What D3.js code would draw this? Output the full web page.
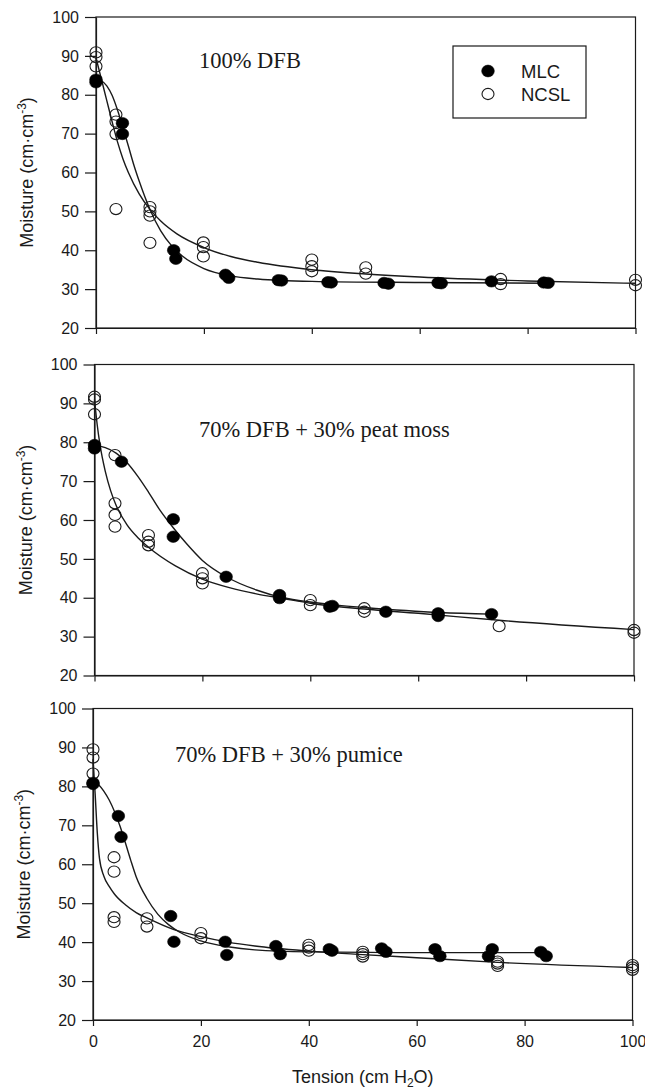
<!DOCTYPE html>
<html>
<head>
<meta charset="utf-8">
<script src="https://cdn.jsdelivr.net/npm/d3@7"></script>
<style>
  html, body { margin: 0; padding: 0; background: #fff; }
  svg { display: block; }
</style>
</head>
<body>
<div id="chart"></div>
<script>
const width = 645;
const height = 1089;

// Panel titles and axis ticks
const panelTitles = ["100% DFB", "70% DFB + 30% peat moss", "70% DFB + 30% pumice"];
const xTicks = [0, 20, 40, 60, 80, 100];
const yTicks = [20, 30, 40, 50, 60, 70, 80, 90, 100];
const seriesNames = ["MLC", "NCSL"];

// 100% DFB: measured points [tension, moisture]
const dfbMlc = [[0, 83.9], [0, 83.2], [4.9, 72.7], [4.9, 69.9], [14.4, 40], [14.8, 37.8],
  [24, 33.7], [24.6, 32.9], [33.8, 32.3], [34.4, 32.2], [43, 31.8], [43.6, 31.7],
  [53.4, 31.6], [54.2, 31.4], [63.4, 31.6], [64, 31.5], [73.3, 32], [83, 31.7], [83.8, 31.6]];
const dfbNcsl = [[0, 90.9], [0, 89.7], [0, 87.3], [3.7, 74.9], [3.7, 73.1], [3.7, 69.9], [3.7, 50.6],
  [10, 51.1], [10, 50], [10, 48.9], [10, 41.9], [19.9, 42], [19.9, 40.8], [19.9, 38.4],
  [40, 37.6], [40, 35.9], [40, 34.6], [50, 35.6], [50, 34], [75, 32.6], [75, 31.3], [100, 32.4], [100, 31]];
// fitted curves
const dfbMlcFit = [[0, 84], [1, 83.6], [2, 82.3], [3, 79.8], [4, 76], [5, 71.5], [6, 66.8], [7, 62],
  [8, 57.8], [10, 50.5], [12, 45], [14, 41.2], [16, 38.5], [20, 35.3], [25, 33.4], [30, 32.6],
  [40, 32], [60, 31.7], [84, 31.5]];
const dfbNcslFit = [[0, 89.5], [1, 84], [2, 78.5], [3, 73], [4, 67.8], [5, 63.5], [6, 60], [8, 54.5],
  [10, 50.5], [12, 47.5], [15, 44.2], [20, 40.7], [25, 38.4], [30, 36.9], [40, 35], [50, 33.9],
  [60, 33.1], [80, 32.1], [100, 31.5]];

// 70% DFB + 30% peat moss
const peatMlc = [[0, 79.3], [0, 78.4], [5, 75], [14.6, 60.2], [14.6, 55.7], [24.4, 45.4],
  [34.3, 40.7], [34.3, 39.9], [43.6, 37.7], [44.1, 37.9], [54, 36.4], [63.7, 36], [63.7, 35.3], [73.6, 35.8]];
const peatNcsl = [[0, 91.7], [0, 91], [0, 87.2], [3.8, 76.7], [3.8, 64.3], [3.8, 61.3], [3.8, 58.3],
  [10, 56.1], [10, 54.4], [10, 53.5], [20, 46.3], [20, 45], [20, 43.7], [40, 39.4], [40, 38.1],
  [50, 37.3], [50, 36.4], [75, 32.7], [100, 31.7], [100, 31]];
const peatMlcFit = [[0, 79.2], [2, 78.6], [4, 77.2], [6, 74.8], [8, 71.3], [10, 67.2], [12, 62.8],
  [14.6, 58], [17, 54], [20, 49.6], [24.4, 45.4], [30, 42], [35, 40], [40, 38.9], [45, 38.1],
  [50, 37.5], [64, 36.2], [73.6, 35.8]];
const peatNcslFit = [[0, 91], [0.5, 84.5], [1, 79.5], [2, 72.5], [3, 67.5], [4, 63.8], [6, 58.8],
  [8, 55.5], [10, 53], [15, 48.2], [20, 44.8], [25, 42.6], [30, 41], [35, 39.8], [40, 38.6],
  [50, 37.1], [60, 36], [75, 34.2], [100, 31.8]];

// 70% DFB + 30% pumice
const pumiceMlc = [[0, 80.9], [0, 80.6], [4.7, 72.4], [5.2, 67], [14.4, 46.7], [15, 40.1],
  [24.5, 40.1], [24.8, 36.7], [33.9, 39], [34.7, 36.9], [43.8, 38.2], [44.3, 37.8],
  [53.5, 38.4], [54.3, 37.5], [63.4, 38.2], [64.3, 36.4], [73.3, 36.4], [74, 38.2], [83, 37.5], [84, 36.4]];
const pumiceNcsl = [[0, 89.5], [0, 87.4], [0, 83.3], [3.9, 61.8], [3.9, 58.1], [3.9, 46.4], [3.9, 45.2],
  [10, 46.1], [10, 44], [20, 42.3], [20, 41], [40, 39.3], [40, 38.6], [40, 37.8],
  [50, 37.5], [50, 36.9], [50, 36.3], [75, 35], [75, 34.5], [75, 33.9], [100, 34.1], [100, 33.5], [100, 32.9]];
const pumiceMlcFit = [[0, 81.5], [1, 80.5], [2, 78.8], [3, 76.5], [4, 73.5], [5, 69.8], [6, 65.5],
  [7, 61], [8, 56.8], [10, 51.2], [12, 47.2], [14, 44.5], [16, 42.6], [20, 40.3], [25, 38.8],
  [30, 38], [40, 37.5], [60, 37.3], [84, 37.3]];
const pumiceNcslFit = [[0, 87], [0.4, 78], [0.8, 68], [1.2, 61.5], [2, 57], [3, 54.3], [4, 52.3],
  [6, 49.6], [8, 47.6], [10, 46.2], [15, 43.2], [20, 41.4], [25, 40], [30, 39], [40, 37.7],
  [50, 36.8], [60, 36], [75, 34.8], [100, 33.5]];

// Layout of the three stacked panels
const panels = [
  { title: panelTitles[0], mlc: dfbMlc, ncsl: dfbNcsl, mlcFit: dfbMlcFit, ncslFit: dfbNcslFit,
    left: 96, right: 635.5, top: 17, bottom: 328, titleX: 199, titleY: 68 },
  { title: panelTitles[1], mlc: peatMlc, ncsl: peatNcsl, mlcFit: peatMlcFit, ncslFit: peatNcslFit,
    left: 94.5, right: 634, top: 364.5, bottom: 675.5, titleX: 199, titleY: 437 },
  { title: panelTitles[2], mlc: pumiceMlc, ncsl: pumiceNcsl, mlcFit: pumiceMlcFit, ncslFit: pumiceNcslFit,
    left: 93, right: 632.5, top: 708.5, bottom: 1020, titleX: 175, titleY: 762 }
];

const ink = "#1a1a1a";
const sans = "'Liberation Sans', Arial, sans-serif";
const serif = "'Liberation Serif', 'Times New Roman', serif";

const svg = d3.select("#chart")
  .append("svg")
  .attr("width", width)
  .attr("height", height);

panels.forEach((p, i) => {
  const x = d3.scaleLinear().domain([0, 100]).range([p.left, p.right]);
  const y = d3.scaleLinear().domain([20, 100]).range([p.bottom, p.top]);
  const g = svg.append("g");

  // frame
  g.append("rect")
    .attr("x", p.left).attr("y", p.top)
    .attr("width", p.right - p.left).attr("height", p.bottom - p.top)
    .attr("fill", "none").attr("stroke", ink).attr("stroke-width", 1.2);

  // y axis
  const yAxis = g.append("g")
    .attr("transform", `translate(${p.left},0)`)
    .call(d3.axisLeft(y).tickValues(yTicks).tickSize(11).tickSizeOuter(0).tickPadding(6));
  yAxis.select(".domain").attr("stroke", ink).attr("stroke-width", 1.2);
  yAxis.selectAll(".tick line").attr("stroke", ink).attr("stroke-width", 1.2);
  yAxis.selectAll(".tick text")
    .attr("fill", ink).style("font-family", sans).style("font-size", "16px");

  // x axis (labels only on the last panel)
  const last = i === panels.length - 1;
  const xAxis = g.append("g")
    .attr("transform", `translate(0,${p.bottom})`)
    .call(d3.axisBottom(x).tickValues(xTicks).tickSize(6).tickSizeOuter(0).tickPadding(10)
      .tickFormat(last ? d3.format("d") : () => ""));
  xAxis.select(".domain").attr("stroke", ink).attr("stroke-width", 1.2);
  xAxis.selectAll(".tick line").attr("stroke", ink).attr("stroke-width", 1.2);
  xAxis.selectAll(".tick text")
    .attr("fill", ink).style("font-family", sans).style("font-size", "16px");

  // y label
  const yl = g.append("text")
    .attr("transform", `translate(${p.left - 63},${(p.top + p.bottom) / 2}) rotate(-90)`)
    .attr("text-anchor", "middle")
    .attr("fill", ink)
    .style("font-family", sans)
    .style("font-size", "18px");
  yl.append("tspan").text("Moisture (cm\u00B7cm");
  yl.append("tspan").attr("dy", -7).style("font-size", "12px").text("-3");
  yl.append("tspan").attr("dy", 7).text(")");

  // title
  g.append("text")
    .attr("x", p.titleX).attr("y", p.titleY)
    .attr("fill", ink)
    .style("font-family", serif)
    .style("font-size", "22.5px")
    .text(p.title);

  // fitted curves
  const line = d3.line()
    .x(d => x(d[0]))
    .y(d => y(d[1]))
    .curve(d3.curveMonotoneX);
  [p.mlcFit, p.ncslFit].forEach(fit => {
    g.append("path")
      .attr("d", line(fit))
      .attr("fill", "none")
      .attr("stroke", ink)
      .attr("stroke-width", 1.4);
  });

  // points
  g.selectAll("ellipse.ncsl")
    .data(p.ncsl)
    .join("ellipse")
    .attr("class", "ncsl")
    .attr("cx", d => x(d[0])).attr("cy", d => y(d[1]))
    .attr("rx", 6).attr("ry", 5.6)
    .attr("fill", "none").attr("stroke", ink).attr("stroke-width", 1.1);

  g.selectAll("ellipse.mlc")
    .data(p.mlc)
    .join("ellipse")
    .attr("class", "mlc")
    .attr("cx", d => x(d[0])).attr("cy", d => y(d[1]))
    .attr("rx", 6.3).attr("ry", 5.7)
    .attr("fill", "#000").attr("stroke", "#000").attr("stroke-width", 0.6);
});

// legend in the first panel
const legend = svg.append("g");
legend.append("rect")
  .attr("x", 453).attr("y", 46).attr("width", 133).attr("height", 72)
  .attr("fill", "#fff").attr("stroke", ink).attr("stroke-width", 1.2);
seriesNames.forEach((name, i) => {
  const cy = 71 + i * 23;
  legend.append("ellipse")
    .attr("cx", 488).attr("cy", cy)
    .attr("rx", i === 0 ? 6.3 : 6).attr("ry", i === 0 ? 5.9 : 5.6)
    .attr("fill", i === 0 ? "#000" : "none")
    .attr("stroke", i === 0 ? "#000" : ink)
    .attr("stroke-width", i === 0 ? 0.6 : 1.1);
  legend.append("text")
    .attr("x", 521).attr("y", cy + 6.5)
    .attr("fill", ink)
    .style("font-family", sans)
    .style("font-size", "18.5px")
    .text(name);
});

// x axis title
const last = panels[panels.length - 1];
const xl = svg.append("text")
  .attr("x", (last.left + last.right) / 2)
  .attr("y", 1083)
  .attr("text-anchor", "middle")
  .attr("fill", ink)
  .style("font-family", sans)
  .style("font-size", "18px");
xl.append("tspan").text("Tension (cm H");
xl.append("tspan").attr("dy", 4).style("font-size", "12px").text("2");
xl.append("tspan").attr("dy", -4).text("O)");
</script>
</body>
</html>
